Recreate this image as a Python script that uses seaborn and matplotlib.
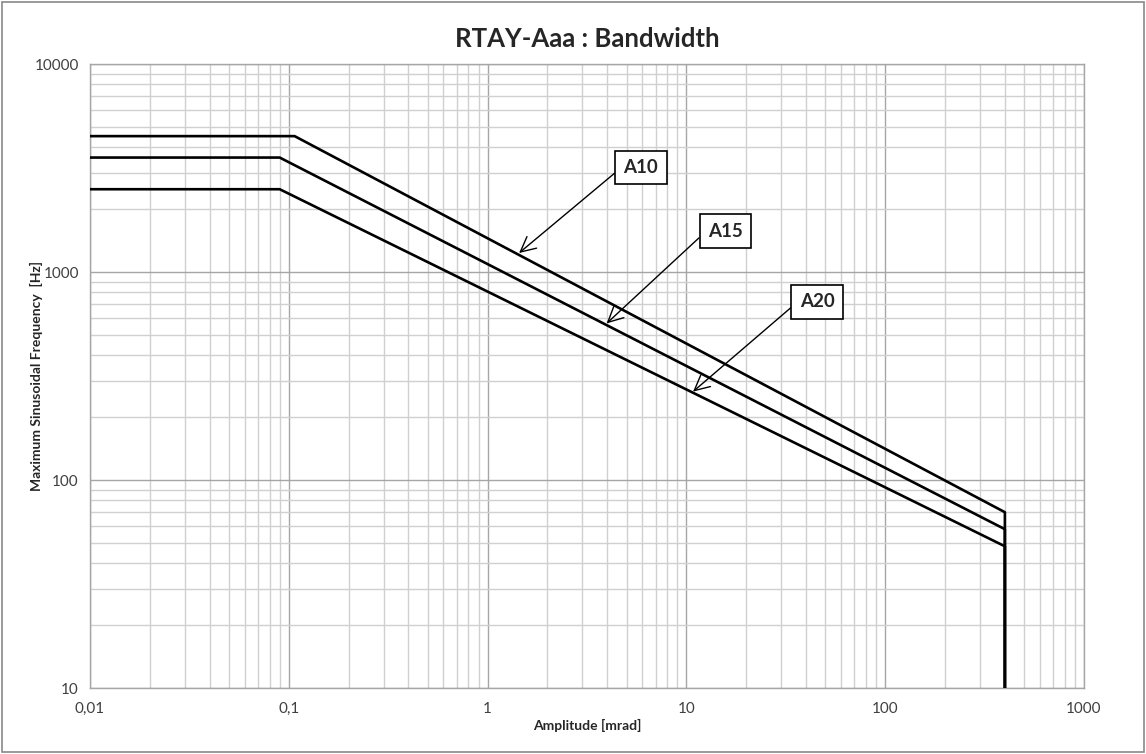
import pandas as pd
import seaborn as sns
import matplotlib.pyplot as plt
from matplotlib.patches import Rectangle
from matplotlib.ticker import FixedLocator, LogLocator, NullFormatter

# Series: (amplitude [mrad], max frequency [Hz])
series_names = ['A10', 'A15', 'A20']
a10_amp = [0.01, 0.107, 400, 400]
a10_freq = [4500, 4500, 70, 10]
a15_amp = [0.01, 0.09, 400, 400]
a15_freq = [3550, 3550, 58, 10]
a20_amp = [0.01, 0.09, 400, 400]
a20_freq = [2500, 2500, 48, 10]

# where each label arrow hits its curve, and where the label box sits
arrow_tips = [(1.44, 1234), (3.97, 566), (10.8, 266)]
label_pos = [(5.9, 3180), (15.7, 1570), (45.5, 720)]

x_ticks = [0.01, 0.1, 1, 10, 100, 1000]
x_tick_labels = ['0,01', '0,1', '1', '10', '100', '1000']
y_ticks = [10, 100, 1000, 10000]
y_tick_labels = ['10', '100', '1000', '10000']

df = pd.concat([
    pd.DataFrame({'amp': a10_amp, 'freq': a10_freq, 'series': 'A10'}),
    pd.DataFrame({'amp': a15_amp, 'freq': a15_freq, 'series': 'A15'}),
    pd.DataFrame({'amp': a20_amp, 'freq': a20_freq, 'series': 'A20'}),
], ignore_index=True)

sns.set_style('white')
plt.rcParams['font.family'] = ['Lato', 'DejaVu Sans']

fig = plt.figure(figsize=(11.46, 7.54), dpi=100)
ax = fig.add_axes([90 / 1146, 66 / 754, 994 / 1146, 624 / 754])

sns.lineplot(data=df, x='amp', y='freq', hue='series', palette=['black'] * 3,
             sort=False, estimator=None, legend=False, linewidth=1.9, ax=ax, zorder=3)

ax.set_xscale('log')
ax.set_yscale('log')
ax.set_xlim(0.01, 1000)
ax.set_ylim(10, 10000)

ax.xaxis.set_major_locator(FixedLocator(x_ticks))
ax.set_xticklabels(x_tick_labels)
ax.yaxis.set_major_locator(FixedLocator(y_ticks))
ax.set_yticklabels(y_tick_labels)
ax.xaxis.set_minor_locator(LogLocator(base=10, subs=range(2, 10), numticks=20))
ax.yaxis.set_minor_locator(LogLocator(base=10, subs=range(2, 10), numticks=20))
ax.xaxis.set_minor_formatter(NullFormatter())
ax.yaxis.set_minor_formatter(NullFormatter())

ax.grid(which='major', color='#a6a6a6', linewidth=1.0)
ax.grid(which='minor', color='#d0d0d0', linewidth=1.0)
ax.tick_params(axis='x', which='major', length=5, color='#a6a6a6', labelsize=11,
               labelcolor='#404040', pad=5)
ax.tick_params(axis='x', which='minor', length=0)
ax.tick_params(axis='y', which='both', length=0, labelsize=11, labelcolor='#404040', pad=8)
for s in ax.spines.values():
    s.set_color('#a6a6a6')
    s.set_linewidth(1.0)

ax.set_xlabel('Amplitude [mrad]', fontsize=10, fontweight='bold', labelpad=2)
ax.set_ylabel('Maximum Sinusoidal Frequency  [Hz]', fontsize=10, fontweight='bold', labelpad=-6)
ax.set_title('RTAY-Aaa : Bandwidth', fontsize=18.5, fontweight='bold', pad=12)

for name, tip, pos in zip(series_names, arrow_tips, label_pos):
    ax.annotate(name, xy=tip, xytext=pos, fontsize=13.5, fontweight='bold',
                ha='center', va='center', zorder=5,
                bbox=dict(boxstyle='square,pad=0.45', fc='white', ec='black', lw=1.2),
                arrowprops=dict(arrowstyle='->,head_length=0.8,head_width=0.4', color='black',
                                lw=1.0, relpos=(0, 0.6), shrinkA=0, shrinkB=0))

# chart-area border as in the spreadsheet export
fig.patches.append(Rectangle((0.002, 0.002), 0.996, 0.996, transform=fig.transFigure,
                             fill=False, ec='#898989', lw=1.2))

fig.savefig('out.png', dpi=100)
